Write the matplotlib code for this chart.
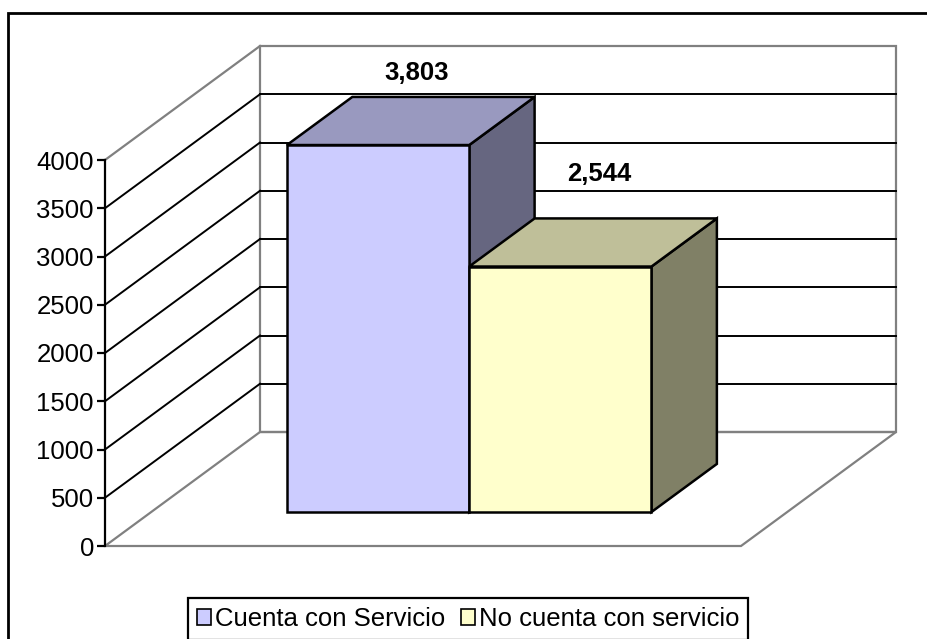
import numpy as np
import matplotlib
matplotlib.use("Agg")
import matplotlib.pyplot as plt
from matplotlib.patches import Polygon, Rectangle

plt.rcParams['font.family'] = ['Liberation Sans', 'DejaVu Sans']

# Data
series = ["Cuenta con Servicio", "No cuenta con servicio"]
values = [3803, 2544]
value_labels = ["3,803", "2,544"]
y_ticks = [0, 500, 1000, 1500, 2000, 2500, 3000, 3500, 4000]

front_colors = ["#CCCCFF", "#FFFFCC"]
top_colors = ["#9999BF", "#BFBF99"]
side_colors = ["#666680", "#808066"]

GRAY = "#808080"
FS = 18.5

# figure / axes setup (data units: x = front plane width 0..1, y = value)
W, H = 927, 639
fig = plt.figure(figsize=(W / 100, H / 100), dpi=100)
ax = fig.add_axes([0, 0, 1, 1])

px_left, px_right, px_zero, px_per_unit = 105, 741, 546, 0.0965
ax.set_xlim(-px_left / (px_right - px_left), (W - px_left) / (px_right - px_left))
ax.set_ylim((px_zero - H) / px_per_unit, px_zero / px_per_unit)

# oblique depth offset for the full floor depth
DX = 155 / (px_right - px_left)
DY = 114 / px_per_unit
ymax = y_ticks[-1]


def proj(x, v, d):
    return (x + d * DX, v + d * DY)


# back wall
ax.add_patch(Polygon([proj(0, 0, 1), proj(1, 0, 1), proj(1, ymax, 1), proj(0, ymax, 1)],
                     closed=True, fill=False, ec=GRAY, lw=1.6, zorder=1))
# floor
ax.add_patch(Polygon([proj(0, 0, 0), proj(1, 0, 0), proj(1, 0, 1), proj(0, 0, 1)],
                     closed=True, fill=False, ec=GRAY, lw=1.6, zorder=1))
# side wall top edge
ax.plot(*zip(proj(0, ymax, 0), proj(0, ymax, 1)), color=GRAY, lw=1.6, zorder=1)

# gridlines on side and back wall
for v in y_ticks[1:-1]:
    ax.plot(*zip(proj(0, v, 0), proj(0, v, 1)), color="black", lw=1.4, zorder=2)
    ax.plot(*zip(proj(0, v, 1), proj(1, v, 1)), color="black", lw=1.4, zorder=2)

# bars
bar_w = 0.2866
d0, d1 = 0.298, 0.72
lift = [44, 64]  # label offset above bar top (px)
for i, val in enumerate(values):
    x0 = 0.5 - bar_w + i * bar_w
    x1 = x0 + bar_w
    z = 3 + i
    front = [proj(x0, 0, d0), proj(x1, 0, d0), proj(x1, val, d0), proj(x0, val, d0)]
    top = [proj(x0, val, d0), proj(x1, val, d0), proj(x1, val, d1), proj(x0, val, d1)]
    side = [proj(x1, 0, d0), proj(x1, val, d0), proj(x1, val, d1), proj(x1, 0, d1)]
    ax.add_patch(Polygon(side, closed=True, fc=side_colors[i], ec="black", lw=1.8, zorder=z))
    ax.add_patch(Polygon(top, closed=True, fc=top_colors[i], ec="black", lw=1.8, zorder=z))
    ax.add_patch(Polygon(front, closed=True, fc=front_colors[i], ec="black", lw=1.8, zorder=z))
    lx, ly = proj((x0 + x1) / 2, val, d0 + 0.59 * (d1 - d0))
    ax.annotate(value_labels[i], (lx, ly), xytext=(0, lift[i] * 0.72), textcoords="offset points",
                ha="center", va="center", fontsize=FS, fontweight="bold", zorder=10)

# y axis as the real axis spine
for s in ["top", "right", "bottom"]:
    ax.spines[s].set_visible(False)
ax.spines["left"].set_position(("data", 0))
ax.spines["left"].set_bounds(0, ymax)
ax.spines["left"].set_linewidth(1.6)
ax.set_yticks(y_ticks)
ax.set_xticks([])
ax.tick_params(axis="y", direction="out", length=6, width=1.6, labelsize=FS, pad=2)
ax.patch.set_visible(False)

# legend
handles = [Rectangle((0, 0), 1, 1, fc=c, ec="black", lw=1.2) for c in front_colors]
leg = fig.legend(handles, series, loc="upper left", bbox_to_anchor=(188 / W, 1 - 598 / H),
                 ncol=2, fontsize=FS, frameon=True, fancybox=False, edgecolor="black",
                 framealpha=1, handlelength=0.55, handleheight=0.55, handletextpad=0.15,
                 columnspacing=0.6, borderpad=0.35, borderaxespad=0)
leg.get_frame().set_linewidth(1.6)

# chart area border (runs off the right and bottom edges)
fig.patches.append(Rectangle((8 / W, -0.1), 1.2, 1 - 13 / H + 0.1, transform=fig.transFigure,
                             fill=False, ec="black", lw=2))

fig.savefig("out.png", dpi=100)
